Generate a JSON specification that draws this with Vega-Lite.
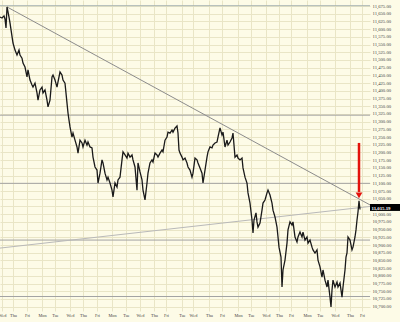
{
  "$schema": "https://vega.github.io/schema/vega-lite/v6.json",
  "width": 370,
  "height": 311,
  "autosize": {"type": "none"},
  "padding": {"left": 0, "top": 0, "right": 30, "bottom": 11},
  "background": "#fdfbe7",
  "config": {
    "view": {"stroke": null, "fill": "#fdfbe7"},
    "axis": {
      "domain": false,
      "ticks": false,
      "gridColor": "#e9e5c6",
      "gridWidth": 1,
      "labelColor": "#444444",
      "labelFont": "Liberation Serif",
      "title": null
    }
  },
  "datasets": {
    "price": [
      {"bar":0,"price":11639},{"bar":2,"price":11636},{"bar":4,"price":11643},{"bar":5,"price":11633},{"bar":6,"price":11604},{"bar":7,"price":11672},{"bar":8,"price":11656},{"bar":9,"price":11639},{"bar":10,"price":11620},{"bar":13,"price":11555},{"bar":15,"price":11532},{"bar":17,"price":11516},{"bar":19,"price":11532},{"bar":20,"price":11516},{"bar":22,"price":11506},{"bar":23,"price":11490},{"bar":25,"price":11477},{"bar":27,"price":11445},{"bar":28,"price":11468},{"bar":30,"price":11435},{"bar":32,"price":11419},{"bar":33,"price":11412},{"bar":35,"price":11425},{"bar":37,"price":11393},{"bar":38,"price":11370},{"bar":40,"price":11403},{"bar":42,"price":11412},{"bar":43,"price":11393},{"bar":45,"price":11403},{"bar":47,"price":11370},{"bar":48,"price":11348},{"bar":50,"price":11370},{"bar":52,"price":11445},{"bar":53,"price":11451},{"bar":55,"price":11435},{"bar":57,"price":11412},{"bar":58,"price":11429},{"bar":60,"price":11461},{"bar":62,"price":11451},{"bar":63,"price":11435},{"bar":65,"price":11425},{"bar":67,"price":11360},{"bar":68,"price":11328},{"bar":69,"price":11305},{"bar":70,"price":11283},{"bar":72,"price":11250},{"bar":73,"price":11263},{"bar":75,"price":11240},{"bar":77,"price":11218},{"bar":78,"price":11198},{"bar":80,"price":11240},{"bar":82,"price":11231},{"bar":83,"price":11218},{"bar":85,"price":11240},{"bar":87,"price":11224},{"bar":88,"price":11234},{"bar":90,"price":11218},{"bar":92,"price":11215},{"bar":93,"price":11185},{"bar":95,"price":11153},{"bar":97,"price":11143},{"bar":98,"price":11101},{"bar":100,"price":11133},{"bar":102,"price":11176},{"bar":103,"price":11166},{"bar":105,"price":11133},{"bar":107,"price":11111},{"bar":108,"price":11120},{"bar":110,"price":11101},{"bar":112,"price":11078},{"bar":113,"price":11056},{"bar":115,"price":11101},{"bar":117,"price":11088},{"bar":118,"price":11111},{"bar":120,"price":11120},{"bar":122,"price":11176},{"bar":123,"price":11202},{"bar":125,"price":11192},{"bar":127,"price":11182},{"bar":128,"price":11198},{"bar":130,"price":11185},{"bar":132,"price":11192},{"bar":133,"price":11176},{"bar":135,"price":11153},{"bar":137,"price":11078},{"bar":138,"price":11166},{"bar":140,"price":11137},{"bar":142,"price":11111},{"bar":143,"price":11078},{"bar":145,"price":11046},{"bar":147,"price":11101},{"bar":148,"price":11133},{"bar":150,"price":11166},{"bar":152,"price":11176},{"bar":153,"price":11169},{"bar":155,"price":11198},{"bar":157,"price":11192},{"bar":158,"price":11185},{"bar":160,"price":11198},{"bar":162,"price":11208},{"bar":163,"price":11202},{"bar":165,"price":11240},{"bar":167,"price":11250},{"bar":168,"price":11266},{"bar":170,"price":11263},{"bar":172,"price":11273},{"bar":173,"price":11266},{"bar":175,"price":11279},{"bar":177,"price":11286},{"bar":178,"price":11263},{"bar":179,"price":11208},{"bar":180,"price":11198},{"bar":182,"price":11185},{"bar":183,"price":11176},{"bar":185,"price":11182},{"bar":187,"price":11166},{"bar":188,"price":11153},{"bar":190,"price":11143},{"bar":192,"price":11120},{"bar":193,"price":11133},{"bar":195,"price":11182},{"bar":197,"price":11176},{"bar":198,"price":11166},{"bar":200,"price":11150},{"bar":202,"price":11133},{"bar":203,"price":11101},{"bar":205,"price":11143},{"bar":207,"price":11185},{"bar":208,"price":11202},{"bar":210,"price":11218},{"bar":212,"price":11215},{"bar":213,"price":11224},{"bar":215,"price":11231},{"bar":217,"price":11234},{"bar":218,"price":11250},{"bar":220,"price":11280},{"bar":222,"price":11257},{"bar":223,"price":11266},{"bar":225,"price":11218},{"bar":227,"price":11240},{"bar":228,"price":11224},{"bar":230,"price":11234},{"bar":232,"price":11247},{"bar":233,"price":11263},{"bar":235,"price":11185},{"bar":237,"price":11192},{"bar":238,"price":11182},{"bar":240,"price":11176},{"bar":242,"price":11182},{"bar":243,"price":11150},{"bar":245,"price":11120},{"bar":247,"price":11101},{"bar":248,"price":11069},{"bar":250,"price":11036},{"bar":252,"price":10981},{"bar":253,"price":10939},{"bar":254,"price":10981},{"bar":256,"price":11004},{"bar":257,"price":10975},{"bar":258,"price":10958},{"bar":260,"price":10971},{"bar":262,"price":11013},{"bar":263,"price":11036},{"bar":265,"price":11046},{"bar":267,"price":11069},{"bar":268,"price":11078},{"bar":270,"price":11062},{"bar":272,"price":11036},{"bar":273,"price":11013},{"bar":275,"price":10991},{"bar":277,"price":10958},{"bar":278,"price":10926},{"bar":279,"price":10893},{"bar":281,"price":10861},{"bar":282,"price":10764},{"bar":283,"price":10819},{"bar":285,"price":10851},{"bar":287,"price":10906},{"bar":288,"price":10949},{"bar":290,"price":10975},{"bar":292,"price":10965},{"bar":293,"price":10975},{"bar":295,"price":10926},{"bar":297,"price":10910},{"bar":298,"price":10926},{"bar":300,"price":10942},{"bar":302,"price":10926},{"bar":303,"price":10942},{"bar":305,"price":10916},{"bar":307,"price":10926},{"bar":308,"price":10906},{"bar":310,"price":10916},{"bar":312,"price":10893},{"bar":313,"price":10884},{"bar":315,"price":10874},{"bar":317,"price":10884},{"bar":318,"price":10851},{"bar":320,"price":10829},{"bar":322,"price":10796},{"bar":323,"price":10819},{"bar":325,"price":10786},{"bar":327,"price":10764},{"bar":328,"price":10786},{"bar":330,"price":10731},{"bar":331,"price":10699},{"bar":332,"price":10754},{"bar":333,"price":10786},{"bar":335,"price":10764},{"bar":337,"price":10780},{"bar":338,"price":10764},{"bar":340,"price":10777},{"bar":342,"price":10731},{"bar":343,"price":10764},{"bar":345,"price":10819},{"bar":346,"price":10861},{"bar":347,"price":10874},{"bar":348,"price":10926},{"bar":350,"price":10916},{"bar":352,"price":10884},{"bar":353,"price":10893},{"bar":355,"price":10926},{"bar":356,"price":10949},{"bar":357,"price":10981},{"bar":358,"price":11007},{"bar":359,"price":11043},{"bar":360,"price":11015.19}
    ],
    "levels": [
      {"level": 11676, "kind": "top"},
      {"level": 11321, "kind": "level"},
      {"level": 11100, "kind": "level"},
      {"level": 10916, "kind": "level"},
      {"level": 10733, "kind": "level"}
    ],
    "trend": [
      {"line": "resistance", "bar": 7, "price": 11672},
      {"line": "resistance", "bar": 370, "price": 11030},
      {"line": "support", "bar": 0, "price": 10890},
      {"line": "support", "bar": 370, "price": 11025}
    ],
    "arrow": [
      {"bar": 359, "from": 11231, "to": 11072, "head": 11061}
    ],
    "tag": [
      {"x1": 370, "x2": 400, "y1": 11010.5, "y2": 11033, "xm": 381, "price": 11015.19}
    ]
  },
  "layer": [
    {
      "data": {"name": "levels"},
      "mark": {"type": "rule", "strokeWidth": 1},
      "encoding": {
        "y": {
          "field": "level",
          "type": "quantitative",
          "scale": {"domain": [10686, 11694.5], "nice": false, "zero": false},
          "axis": {
            "orient": "right",
            "values": [10700,10725,10750,10775,10800,10825,10850,10875,10900,10925,10950,10975,11000,11025,11050,11075,11100,11125,11150,11175,11200,11225,11250,11275,11300,11325,11350,11375,11400,11425,11450,11475,11500,11525,11550,11575,11600,11625,11650,11675],
            "tickCount": 200,
            "format": ",.2f",
            "labelFontSize": 4.7,
            "labelPadding": 2,
            "labelOverlap": false,
            "labelBound": false,
            "grid": true
          }
        },
        "color": {
          "field": "kind",
          "type": "nominal",
          "scale": {"domain": ["top", "level"], "range": ["#a6b3b3", "#a3a3a3"]},
          "legend": null
        }
      }
    },
    {
      "data": {"name": "trend"},
      "mark": {"type": "line", "strokeWidth": 1},
      "encoding": {
        "x": {
          "field": "bar",
          "type": "quantitative",
          "scale": {"domain": [0, 370], "nice": false, "zero": false},
          "axis": {
            "orient": "bottom",
            "values": [2,13,27,42,55,70,83,97,112,126,140,154,166,182,193,209,222,238,251,266,279,291,307,320,335,350,362],
            "tickCount": 200,
            "labelExpr": "['Wed','Thu','Fri','Mon','Tue','Wed','Thu','Fri','Mon','Tue','Wed','Thu','Fri','Tue','Wed','Thu','Fri','Mon','Tue','Wed','Thu','Fri','Mon','Tue','Wed','Thu','Fri'][indexof([2,13,27,42,55,70,83,97,112,126,140,154,166,182,193,209,222,238,251,266,279,291,307,320,335,350,362], datum.value)]",
            "labelFontSize": 4.3,
            "labelPadding": 2,
            "labelOverlap": false,
            "labelBound": false,
            "labelFlush": false,
            "grid": true
          }
        },
        "y": {"field": "price", "type": "quantitative"},
        "detail": {"field": "line"},
        "stroke": {
          "field": "line",
          "type": "nominal",
          "scale": {"domain": ["resistance", "support"], "range": ["#8c8c8c", "#b9b9b9"]},
          "legend": null
        }
      }
    },
    {
      "data": {"name": "price"},
      "mark": {"type": "line", "color": "#1a1a1a", "strokeWidth": 1.3, "strokeJoin": "miter"},
      "encoding": {
        "x": {"field": "bar", "type": "quantitative"},
        "y": {"field": "price", "type": "quantitative"}
      }
    },
    {
      "data": {"name": "arrow"},
      "mark": {"type": "rule", "color": "#e3120b", "strokeWidth": 2.5},
      "encoding": {
        "x": {"field": "bar", "type": "quantitative"},
        "y": {"field": "from", "type": "quantitative"},
        "y2": {"field": "to"}
      }
    },
    {
      "data": {"name": "arrow"},
      "mark": {"type": "point", "shape": "triangle-down", "filled": true, "color": "#e3120b", "size": 45, "opacity": 1},
      "encoding": {
        "x": {"field": "bar", "type": "quantitative"},
        "y": {"field": "head", "type": "quantitative"}
      }
    },
    {
      "data": {"name": "tag"},
      "mark": {"type": "rect", "color": "#000000", "clip": false},
      "encoding": {
        "x": {"field": "x1", "type": "quantitative"},
        "x2": {"field": "x2"},
        "y": {"field": "y1", "type": "quantitative"},
        "y2": {"field": "y2"}
      }
    },
    {
      "data": {"name": "tag"},
      "mark": {"type": "text", "color": "#ffffff", "font": "Liberation Serif", "fontSize": 4.8, "fontWeight": "bold", "align": "center", "baseline": "middle", "clip": false},
      "encoding": {
        "x": {"field": "xm", "type": "quantitative"},
        "y": {"field": "price", "type": "quantitative"},
        "text": {"field": "price", "type": "quantitative", "format": ",.2f"}
      }
    }
  ]
}
